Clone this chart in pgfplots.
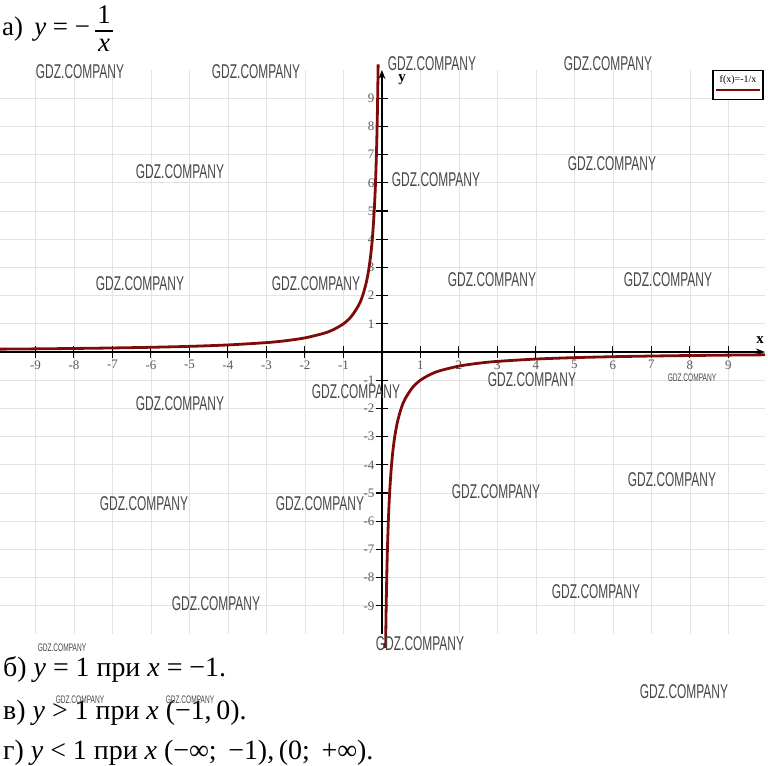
\documentclass[border=0pt]{standalone}
\usepackage{pgfplots}
\pgfplotsset{compat=1.18}
\usepackage{fontspec}
\setmainfont{Liberation Serif}
\newfontfamily\wm[FakeStretch=0.6]{Liberation Sans}
\usetikzlibrary{arrows.meta}
\definecolor{curve}{HTML}{7F0A0A}
\begin{document}
\begin{tikzpicture}
\begin{axis}[
  at={(0,0)},anchor=south west,
  x=38.5bp,y=28.2bp,
  xmin=-9.92,xmax=9.95,ymin=-10,ymax=10,
  axis lines=middle,
  axis line style={line width=1.6bp,-{Stealth[length=9bp,width=7bp]}},
  xtick={-9,-8,-7,-6,-5,-4,-3,-2,-1,1,2,3,4,5,6,7,8,9},
  ytick={-9,-8,-7,-6,-5,-4,-3,-2,-1,1,2,3,4,5,6,7,8,9},
  xticklabels={-9,-8,-7,-6,-5,-4,-3,-2,-1,1,2,3,4,5,6,7,8,9},
  yticklabels={-9,-8,-7,-6,-5,-4,-3,-2,-1,1,2,3,4,5,6,7,8,9},
  major tick length=12bp,tick align=center,
  tick style={black,line width=1.1bp},
  ticklabel style={font=\fontsize{13}{13}\selectfont,text=black!65},
  xticklabel style={yshift=1bp},
  yticklabel style={xshift=2bp},
  grid=major,grid style={gray!22,line width=0.8bp},
  clip=false,
]
\addplot[curve,line width=2.8bp,smooth] coordinates {
(-9.92,0.101)(-9,0.111)(-8,0.125)(-7,0.143)(-6,0.167)(-5,0.2)(-4,0.25)(-3,0.333)
(-2.5,0.4)(-2,0.5)(-1.5,0.667)(-1.25,0.8)(-1,1)(-0.8,1.25)(-0.6,1.667)(-0.5,2)
(-0.4,2.5)(-0.33,3.03)(-0.28,3.57)(-0.24,4.17)(-0.2,5)(-0.17,5.88)(-0.14,7.14)
(-0.12,8.33)(-0.11,9.09)(-0.098,10.2)};
\addplot[curve,line width=2.8bp,smooth] coordinates {
(0.095,-10.5)(0.1,-10)(0.11,-9.09)(0.12,-8.33)(0.14,-7.14)(0.17,-5.88)(0.2,-5)
(0.24,-4.17)(0.28,-3.57)(0.33,-3.03)(0.4,-2.5)(0.5,-2)(0.6,-1.667)(0.8,-1.25)
(1,-1)(1.25,-0.8)(1.5,-0.667)(2,-0.5)(2.5,-0.4)(3,-0.333)(4,-0.25)(5,-0.2)
(6,-0.167)(7,-0.143)(8,-0.125)(9,-0.111)(9.95,-0.1)};
\end{axis}
% text placed in pixel coordinates of the reference
\begin{scope}[x=1bp,y=-1bp,shift={(0,634bp)}]
\node[font=\bfseries\fontsize{15}{15}\selectfont] at (760,340) {x};
\node[font=\bfseries\fontsize{15}{15}\selectfont] at (402,80) {y};
% legend
\node[draw,line width=1.2bp,fill=white,minimum width=50bp,minimum height=29bp] at (738,85) {};
\node[font=\fontsize{10}{10}\selectfont] at (738,80) {f(x)=-1/x};
\draw[curve,line width=2.2bp] (716,90) -- (760,90);
% title
\node[anchor=base west,font=\fontsize{27}{27}\selectfont,inner sep=0] at (2,36) {а)\, \textit{y} = −};
\node[anchor=base,font=\fontsize{27}{27}\selectfont,inner sep=0] at (104,24) {1};
\draw[line width=1.2bp] (95,31) -- (113,31);
\node[anchor=base,font=\fontsize{27}{27}\selectfont,inner sep=0] at (104,52) {\textit{x}};
% answers
\begin{scope}[every node/.style={anchor=base west,inner sep=0,font=\fontsize{28}{28}\selectfont}]
\node at (3,677) {б) \textit{y} = 1 при \textit{x} = −1.};
\node at (3,720) {в) \textit{y} > 1 при \textit{x} (−1,\,0).};
\node at (3,760) {г) \textit{y} < 1 при \textit{x} (−∞; \,−1),\,(0; \,+∞).};
\end{scope}
% watermarks
\begin{scope}[every node/.style={text=black!72,font=\wm\fontsize{20}{20}\selectfont}]
\node at (80,72) {GDZ.COMPANY};
\node at (256,72) {GDZ.COMPANY};
\node at (432,64) {GDZ.COMPANY};
\node at (608,64) {GDZ.COMPANY};
\node at (180,172) {GDZ.COMPANY};
\node at (612,164) {GDZ.COMPANY};
\node at (436,180) {GDZ.COMPANY};
\node at (140,284) {GDZ.COMPANY};
\node at (316,284) {GDZ.COMPANY};
\node at (492,280) {GDZ.COMPANY};
\node at (668,280) {GDZ.COMPANY};
\node at (356,392) {GDZ.COMPANY};
\node at (532,380) {GDZ.COMPANY};
\node at (180,404) {GDZ.COMPANY};
\node at (144,504) {GDZ.COMPANY};
\node at (320,504) {GDZ.COMPANY};
\node at (496,492) {GDZ.COMPANY};
\node at (672,480) {GDZ.COMPANY};
\node at (216,604) {GDZ.COMPANY};
\node at (596,592) {GDZ.COMPANY};
\node at (420,644) {GDZ.COMPANY};
\node at (684,692) {GDZ.COMPANY};
\end{scope}
\begin{scope}[every node/.style={text=black!72,font=\wm\fontsize{11}{11}\selectfont}]
\node at (692,378) {GDZ.COMPANY};
\node at (62,648) {GDZ.COMPANY};
\node at (80,700) {GDZ.COMPANY};
\node at (190,700) {GDZ.COMPANY};
\end{scope}
\end{scope}
\pgfresetboundingbox
\path[use as bounding box] (0,-132bp) rectangle (768bp,634bp);
\end{tikzpicture}
\end{document}
